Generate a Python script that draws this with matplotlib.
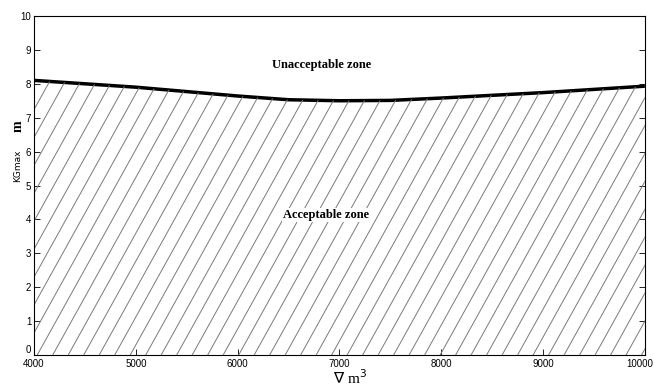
import numpy as np
import matplotlib
matplotlib.use('Agg')
import matplotlib.pyplot as plt
import matplotlib.transforms as mtransforms

plt.rcParams['font.family'] = ['Liberation Sans Narrow', 'Liberation Sans', 'DejaVu Sans']

volume = [4000, 5000, 6000, 6500, 7000, 7500, 8000, 9000, 10000]
kg_max = [8.10, 7.90, 7.64, 7.53, 7.50, 7.51, 7.58, 7.74, 7.93]
x_ticks = [4000, 5000, 6000, 7000, 8000, 9000, 10000]
y_ticks = list(range(0, 11))

fig = plt.figure(figsize=(6.54, 3.89), dpi=100)
ax = fig.add_axes([0.052, 0.087, 0.934, 0.872])

# acceptable region below the limit curve
poly = ax.fill_between(volume, 0, kg_max, facecolor='none', edgecolor='none')
ax.plot(volume, kg_max, color='black', lw=2.5, solid_capstyle='butt')

# steep hatch lines, clipped to the region
slope = 1.8 * 611 / 339
step = 15.5 / 611
for c in np.arange(-0.35, 1.0, step):
    ln, = ax.plot([c, c + 1 / slope], [0, 1], transform=ax.transAxes,
                  color='#7a7a7a', lw=0.7)
    ln.set_clip_path(poly.get_paths()[0], ax.transData)

ax.set_xlim(4000, 10000)
ax.set_ylim(0, 10)
ax.set_xticks(x_ticks)
ax.set_yticks(y_ticks)
ax.tick_params(direction='in', length=4, width=0.6, labelsize=7,
               top=False, right=True, pad=2)
ax.tick_params(axis='x', pad=3)
for s in ax.spines.values():
    s.set_linewidth(0.8)

fig.canvas.draw()
xl = ax.get_xticklabels()
xl[-1].set_horizontalalignment('right')
xl[-1].set_transform(xl[-1].get_transform() +
                     mtransforms.ScaledTranslation(0.08, 0, fig.dpi_scale_trans))
yl = ax.get_yticklabels()
yl[0].set_verticalalignment('bottom')

ax.text(6830, 8.55, 'Unacceptable zone', family='Liberation Serif',
        fontweight='bold', fontsize=9, ha='center', va='center')
ax.text(6870, 4.13, 'Acceptable zone', family='Liberation Serif',
        fontweight='bold', fontsize=9, ha='center', va='center',
        bbox=dict(facecolor='white', edgecolor='none', pad=1))

fig.text(0.027, 0.675, 'm', family='Liberation Serif', fontweight='bold',
         fontsize=10, rotation=90, ha='center', va='center')
fig.text(0.027, 0.575, 'KGmax', fontsize=6.5, rotation=90,
         ha='center', va='center', family='DejaVu Sans')
fig.text(0.535, 0.03, r'$\nabla$ m$^{3}$', family='Liberation Serif',
         fontsize=11, ha='center', va='center')

fig.savefig('out.png', dpi=100)
